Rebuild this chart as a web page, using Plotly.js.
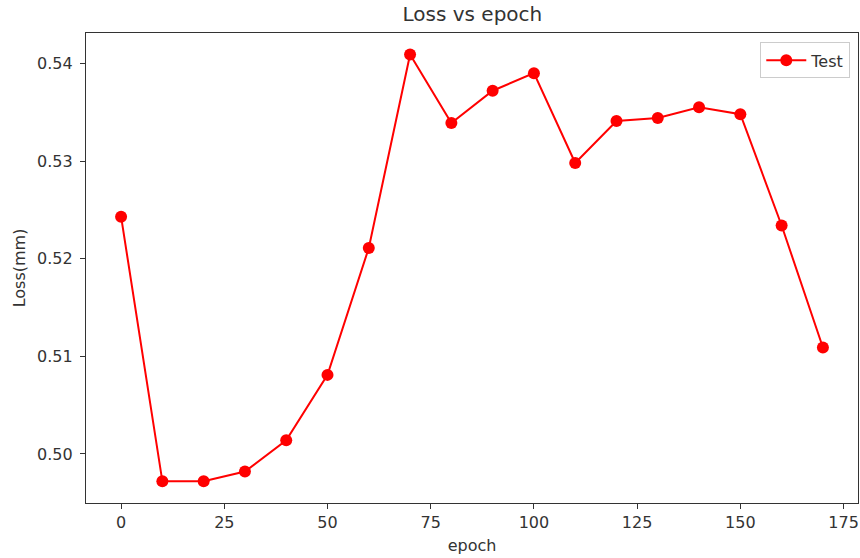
<!DOCTYPE html>
<html><head><meta charset="utf-8">
<script src="https://cdn.plot.ly/plotly-3.0.1.min.js"></script>
<style>html,body{margin:0;padding:0;background:#fff;}#chart{width:860px;height:558px;}</style>
</head><body><div id="chart"></div>
<script>
const epochs = [0,10,20,30,40,50,60,70,80,90,100,110,120,130,140,150,160,170];
const testLoss = [0.5243,0.4972,0.4972,0.4982,0.5014,0.5081,0.5211,0.5409,0.5339,0.5372,0.5390,0.5298,0.5341,0.5344,0.5355,0.5348,0.5234,0.5109];
const xTicks = [0,25,50,75,100,125,150,175];
const yTicks = [0.50,0.51,0.52,0.53,0.54];
const yTickText = ["0.50","0.51","0.52","0.53","0.54"];

const trace = {x: epochs, y: testLoss, type:'scatter', mode:'lines+markers', name:'Test',
  line:{color:'#ff0000', width:2}, marker:{color:'#ff0000', size:12}};
const axisCommon = {showgrid:false, zeroline:false, showline:true, mirror:true, linecolor:'#333', linewidth:1.2,
  ticks:'outside', ticklen:5, tickwidth:1, tickcolor:'#333', tickfont:{size:16, color:'#333'}};
const layout = {
  width:860, height:558,
  margin:{l:86, r:2, t:33, b:55},
  paper_bgcolor:'#fff', plot_bgcolor:'#fff',
  font:{family:'DejaVu Sans, sans-serif', color:'#333'},
  title:{text:'Loss vs epoch', font:{size:20, color:'#333'}, x:0.5493, xanchor:'center', y:0.975, yanchor:'middle'},
  xaxis:Object.assign({}, axisCommon, {range:[-8.5,178.5], tickvals:xTicks, ticktext:xTicks.map(String),
    title:{text:'epoch', font:{size:16, color:'#333'}, standoff:8}}),
  yaxis:Object.assign({}, axisCommon, {range:[0.49498,0.54311], tickvals:yTicks, ticktext:yTickText,
    ticklabelstandoff:4,
    title:{text:'Loss(mm)', font:{size:16, color:'#333'}, standoff:7}}),
  showlegend:true,
  legend:{x:0.99, xanchor:'right', y:0.98, yanchor:'top', bgcolor:'rgba(255,255,255,0.8)', bordercolor:'#ccc', borderwidth:1,
    font:{size:16, color:'#333'}, itemwidth:40}
};
Plotly.newPlot('chart',[trace],layout,{displayModeBar:false, staticPlot:true});
</script></body></html>
